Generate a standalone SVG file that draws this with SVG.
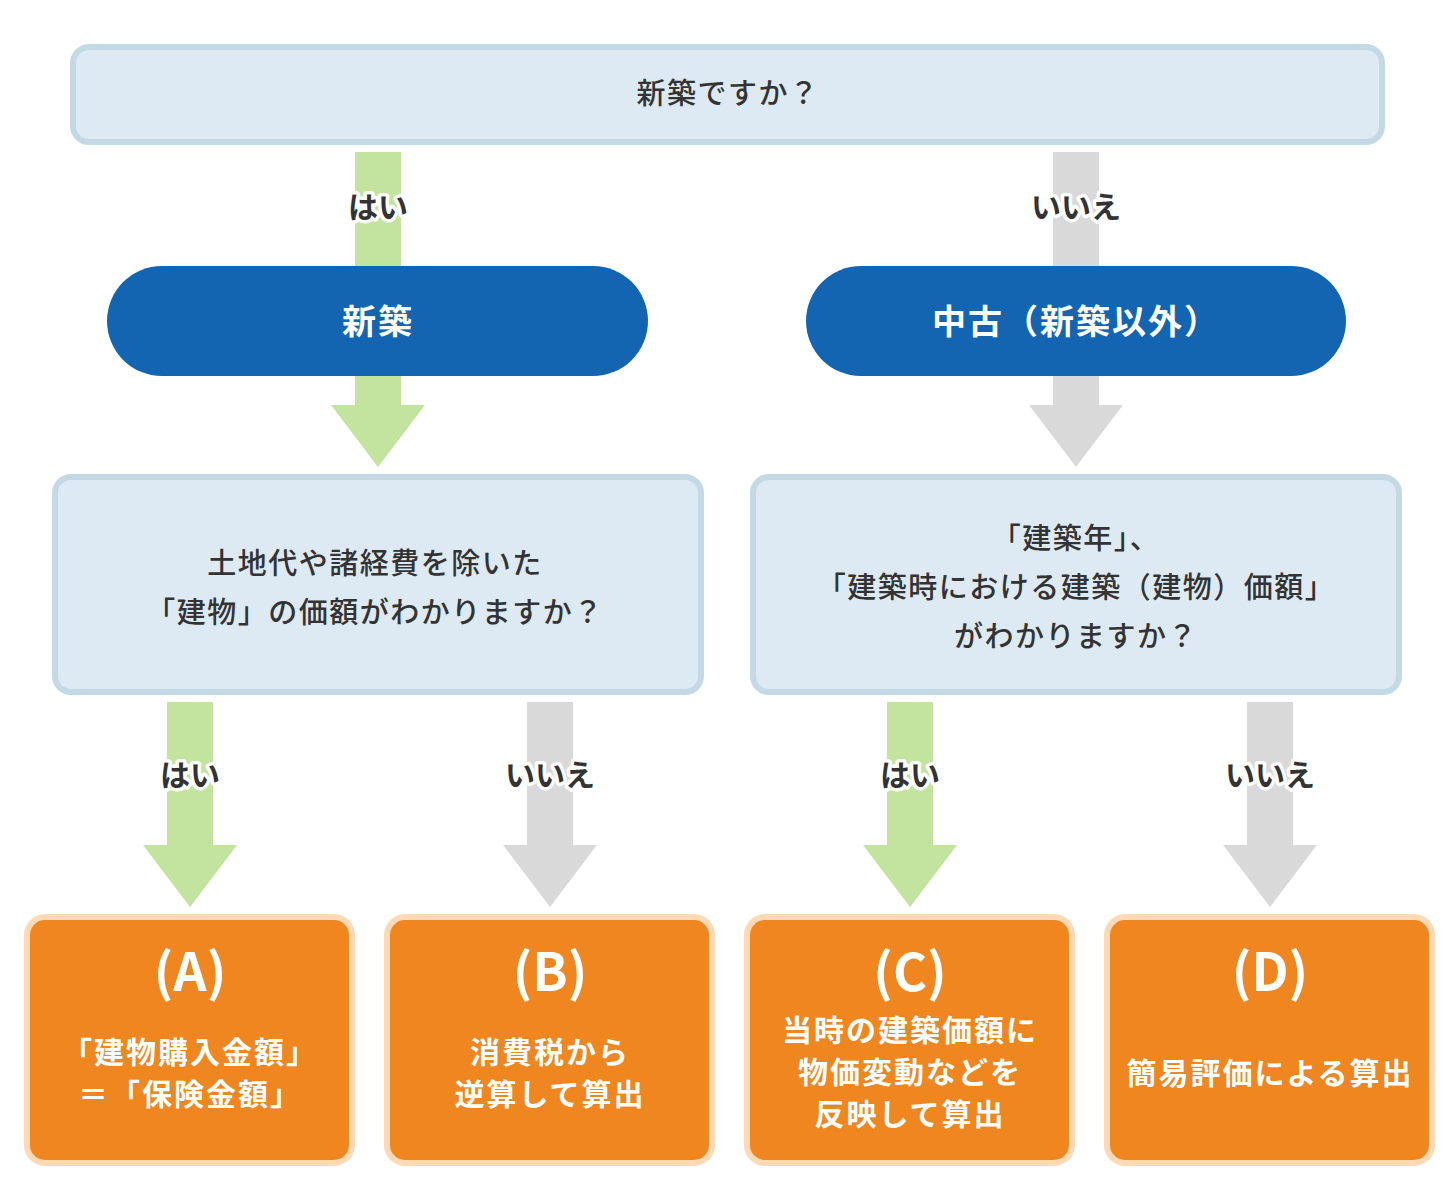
<svg xmlns="http://www.w3.org/2000/svg" width="1456" height="1180" viewBox="0 0 1456 1180">
<style>
text{font-family:"Noto Sans CJK JP","Noto Sans",sans-serif;text-anchor:middle;dominant-baseline:central}
.q{fill:#DDEAF3;stroke:#C3DAE6;stroke-width:6}
.pill{fill:#1365B1}
.res{fill:#F0861F;stroke:#FDD9B5;stroke-width:6}
.qt{font-size:29px;fill:#333;font-weight:500;letter-spacing:1.5px}
.pt{font-size:34px;fill:#fff;font-weight:700;letter-spacing:2px}
.rt{font-size:30px;fill:#fff;font-weight:700;letter-spacing:2px}
.rl{font-size:52px;fill:#fff;font-weight:600}
.lb{font-size:30px;fill:#333;font-weight:700;stroke:#fff;stroke-width:7px;stroke-linejoin:round;paint-order:stroke}
.yes{fill:#C2E49E}
.no{fill:#D9D9D9}
</style>
<g id="connectors">
<rect class="yes" x="355" y="152" width="46" height="114"/>
<rect class="no" x="1053" y="152" width="46" height="114"/>
<polygon class="yes" points="355,376 401,376 401,405 425,405 378,467 331,405 355,405"/>
<polygon class="no" points="1053,376 1099,376 1099,405 1123,405 1076,467 1029,405 1053,405"/>
<polygon class="yes" points="167,702 213,702 213,845 237,845 190,907 143,845 167,845"/>
<polygon class="no" points="527,702 573,702 573,845 597,845 550,907 503,845 527,845"/>
<polygon class="yes" points="887,702 933,702 933,845 957,845 910,907 863,845 887,845"/>
<polygon class="no" points="1247,702 1293,702 1293,845 1317,845 1270,907 1223,845 1247,845"/>
<text class="lb" x="378" y="205">はい</text>
<text class="lb" x="1076" y="205">いいえ</text>
<text class="lb" x="190" y="773">はい</text>
<text class="lb" x="550" y="773">いいえ</text>
<text class="lb" x="910" y="773">はい</text>
<text class="lb" x="1270" y="773">いいえ</text>
</g>
<g id="q-top">
<rect class="q" x="73" y="47" width="1309" height="95" rx="16"/>
<text class="qt" x="728" y="91">新築ですか？</text>
</g>
<g id="pill-new">
<rect class="pill" x="107" y="266" width="541" height="110" rx="55"/>
<text class="pt" x="378" y="319">新築</text>
</g>
<g id="pill-used">
<rect class="pill" x="806" y="266" width="540" height="110" rx="55"/>
<text class="pt" x="1076" y="319">中古（新築以外）</text>
</g>
<g id="q-new">
<rect class="q" x="55" y="477" width="646" height="215" rx="16"/>
<text class="qt" x="375" y="561">土地代や諸経費を除いた</text>
<text class="qt" x="375" y="610">「建物」の価額がわかりますか？</text>
</g>
<g id="q-used">
<rect class="q" x="753" y="477" width="646" height="215" rx="16"/>
<text class="qt" x="1076" y="536">「建築年」、</text>
<text class="qt" x="1076" y="585">「建築時における建築（建物）価額」</text>
<text class="qt" x="1076" y="634">がわかりますか？</text>
</g>
<g id="res-a">
<rect class="res" x="27" y="917" width="325" height="246" rx="18"/>
<text class="rl" x="190" y="968">(A)</text>
<text class="rt" x="190" y="1050">「建物購入金額」</text>
<text class="rt" x="190" y="1092">＝「保険金額」</text>
</g>
<g id="res-b">
<rect class="res" x="387" y="917" width="325" height="246" rx="18"/>
<text class="rl" x="550" y="968">(B)</text>
<text class="rt" x="550" y="1050">消費税から</text>
<text class="rt" x="550" y="1092">逆算して算出</text>
</g>
<g id="res-c">
<rect class="res" x="747" y="917" width="325" height="246" rx="18"/>
<text class="rl" x="910" y="968">(C)</text>
<text class="rt" x="910" y="1028">当時の建築価額に</text>
<text class="rt" x="910" y="1070">物価変動などを</text>
<text class="rt" x="910" y="1112">反映して算出</text>
</g>
<g id="res-d">
<rect class="res" x="1107" y="917" width="325" height="246" rx="18"/>
<text class="rl" x="1270" y="968">(D)</text>
<text class="rt" x="1270" y="1071">簡易評価による算出</text>
</g>
</svg>
